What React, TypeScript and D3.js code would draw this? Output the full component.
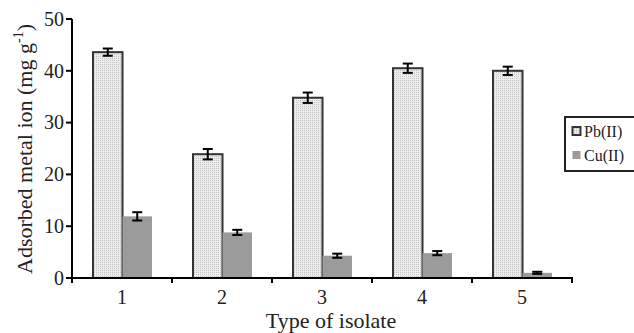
import React from 'react';
import * as d3 from 'd3';

// isolate types and adsorbed amounts (mg/g)
const isolates = ['1', '2', '3', '4', '5'];
const pbValues = [43.6, 23.9, 34.8, 40.5, 40.0];
const pbErrors = [0.7, 1.0, 1.0, 0.9, 0.8];
const cuValues = [11.9, 8.8, 4.3, 4.8, 1.0];
const cuErrors = [0.8, 0.5, 0.4, 0.4, 0.2];
const seriesNames = ['Pb(II)', 'Cu(II)'];
const yTicks = [0, 10, 20, 30, 40, 50];

const W = 634;
const H = 333;
const font = '"Liberation Serif", "Times New Roman", serif';

export default function App() {
  const x0 = d3.scaleBand().domain(isolates).range([72, 572]).padding(0);
  const x1 = d3.scaleBand().domain(seriesNames).range([21, 80]).padding(0);
  const y = d3.scaleLinear().domain([0, 50]).range([278, 19]);

  const series = [
    { name: seriesNames[0], values: pbValues, errors: pbErrors, fill: 'url(#dots)', stroke: '#333' },
    { name: seriesNames[1], values: cuValues, errors: cuErrors, fill: '#9b9b9b', stroke: 'none' },
  ];

  const bottom = y(0);

  return (
    <svg width={W} height={H} style={{ position: 'absolute', left: 0, top: 0, background: '#fff' }}>
      <defs>
        <pattern id="dots" width="2" height="2" patternUnits="userSpaceOnUse">
          <rect width="2" height="2" fill="#ececec" />
          <rect width="1" height="1" fill="#c4c4c4" />
        </pattern>
      </defs>
      <rect width={W} height={H} fill="#fff" />

      {/* bars */}
      {series.map((s) =>
        isolates.map((c, i) => {
          const bx = (x0(c) as number) + (x1(s.name) as number);
          const bw = x1.bandwidth();
          const top = y(s.values[i]);
          return (
            <rect
              key={s.name + c}
              x={bx}
              y={top}
              width={bw}
              height={bottom - top}
              fill={s.fill}
              stroke={s.stroke}
              strokeWidth={2}
            />
          );
        })
      )}

      {/* error bars */}
      {series.map((s) =>
        isolates.map((c, i) => {
          const cx = (x0(c) as number) + (x1(s.name) as number) + x1.bandwidth() / 2;
          const hi = y(s.values[i] + s.errors[i]);
          const lo = y(s.values[i] - s.errors[i]);
          return (
            <g key={'e' + s.name + c} stroke="#000" strokeWidth={2}>
              <line x1={cx} x2={cx} y1={hi} y2={lo} />
              <line x1={cx - 5} x2={cx + 5} y1={hi} y2={hi} />
              <line x1={cx - 5} x2={cx + 5} y1={lo} y2={lo} />
            </g>
          );
        })
      )}

      {/* y axis */}
      <line x1={72} x2={72} y1={y(50)} y2={bottom + 5} stroke="#000" strokeWidth={2} />
      {yTicks.map((t) => (
        <g key={'yt' + t}>
          <line x1={66} x2={72} y1={y(t)} y2={y(t)} stroke="#000" strokeWidth={2} />
          <text
            x={64}
            y={y(t)}
            dy="0.34em"
            textAnchor="end"
            fontFamily={font}
            fontSize={20}
            fill="#222"
          >
            {t}
          </text>
        </g>
      ))}

      {/* x axis */}
      <line x1={71} x2={573} y1={bottom} y2={bottom} stroke="#000" strokeWidth={2} />
      {isolates.map((c) => (
        <line
          key={'xt' + c}
          x1={(x0(c) as number) + x0.bandwidth()}
          x2={(x0(c) as number) + x0.bandwidth()}
          y1={bottom}
          y2={bottom + 5}
          stroke="#000"
          strokeWidth={2}
        />
      ))}
      {isolates.map((c) => (
        <text
          key={'xl' + c}
          x={(x0(c) as number) + x0.bandwidth() / 2}
          y={304}
          textAnchor="middle"
          fontFamily={font}
          fontSize={20}
          fill="#222"
        >
          {c}
        </text>
      ))}

      {/* axis titles */}
      <text x={331} y={328} textAnchor="middle" fontFamily={font} fontSize={22} fill="#222">
        Type of isolate
      </text>
      <text
        transform="translate(32,149) rotate(-90)"
        textAnchor="middle"
        fontFamily={font}
        fontSize={22}
        fill="#222"
      >
        Adsorbed metal ion (mg g
        <tspan fontSize={14} dy={-9}>-1</tspan>
        <tspan dy={9}>)</tspan>
      </text>

      {/* legend */}
      <rect x={565} y={117} width={80} height={54} fill="#fff" stroke="#222" strokeWidth={2} />
      {series.map((s, i) => (
        <g key={'lg' + s.name}>
          <rect
            x={572.5}
            y={127 + i * 24}
            width={8}
            height={8}
            fill={s.fill}
            stroke={s.stroke === 'none' ? 'none' : '#333'}
            strokeWidth={2}
          />
          <text x={584} y={137 + i * 24} fontFamily={font} fontSize={16} fill="#222">
            {s.name}
          </text>
        </g>
      ))}
    </svg>
  );
}
